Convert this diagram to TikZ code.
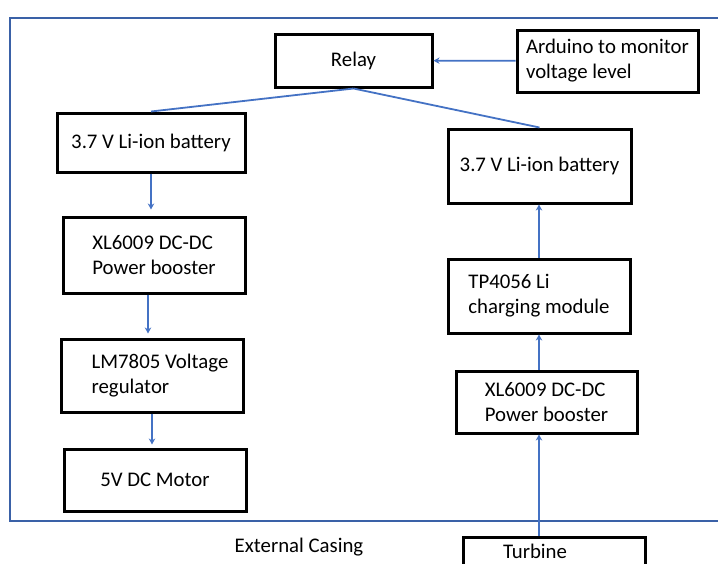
\documentclass[tikz,border=0pt]{standalone}
\usepackage{fontspec}
\setmainfont{Carlito}
\usetikzlibrary{positioning,arrows.meta}
\definecolor{WireBlue}{RGB}{68,114,196}
\tikzset{
  flow/.style={-{Stealth[length=3pt,width=3.2pt]},line width=0.9pt,draw=WireBlue},
  link/.style={line width=0.9pt,draw=WireBlue},
  casing/.style={line width=1pt,draw=WireBlue!85!black},
  box/.style={draw=black,line width=1.5pt,minimum width=91pt,minimum height=31pt,
    align=left,font=\fontsize{10.4}{12.5}\selectfont}
}

\begin{document}
\begin{tikzpicture}[x=0.5pt,y=-0.5pt]
  \useasboundingbox (0,0) rectangle (718,563);
  \clip (0,0) rectangle (718,563);
  \draw[casing] (10,18) rectangle (740,521);
  \node[font=\fontsize{10.4}{12.5}\selectfont] (extcase) at (299,547) {External Casing};

  % top: relay driven by the arduino
  \node[box,minimum width=78.5pt,minimum height=26.5pt] (relay) at (353.5,60.5) {Relay};
  \node[box,minimum width=90.5pt,minimum height=31pt] (arduino) at (607.5,61) {Arduino to monitor\\voltage level};
  \draw[flow] (arduino) -- (relay);

  % load side
  \node[box,minimum width=94pt,minimum height=29.5pt] (batload) at (151,142.5) {3.7 V Li-ion battery};
  \node[box,minimum height=38pt] (boostload) at (154,255) {XL6009 DC-DC\\Power booster};
  \node[box,minimum height=36.5pt] (regulator) at (152,375.5) {\hspace*{8pt}LM7805 Voltage\\\hspace*{8pt}regulator\hspace*{8pt}};
  \node[box] (motor) at (155,480) {5V DC Motor};
  \draw[link] (relay.south) -- (batload.north);
  \draw[flow,shorten >=3pt] (batload.south) -- (batload.south |- boostload.north);
  \draw[flow,shorten >=2pt] ([xshift=-3pt]boostload.south) -- ([xshift=-3pt]boostload.south |- regulator.north);
  \draw[flow,shorten >=1.5pt] (regulator.south) -- (regulator.south |- motor.north);

  % charging side
  \node[box,minimum width=91.5pt,minimum height=37pt] (batcharge) at (539.5,166) {3.7 V Li-ion battery};
  \node[box,minimum height=37pt] (charger) at (539,296) {TP4056 Li\\charging module};
  \node[box,minimum width=90.5pt] (boostcharge) at (546.5,402) {XL6009 DC-DC\\Power booster};
  \node[box,anchor=north,inner xsep=20pt,text width=51pt,text depth=20pt] (turbine) at (554,536) {Turbine};
  \draw[link] (relay.south) -- (batcharge.north);
  \draw[flow] (charger.north) -- (charger.north |- batcharge.south);
  \draw[flow] (charger.south |- boostcharge.north) -- (charger.south);
  \draw[flow] (charger.south |- turbine.north) -- (charger.south |- boostcharge.south);
\end{tikzpicture}
\end{document}
